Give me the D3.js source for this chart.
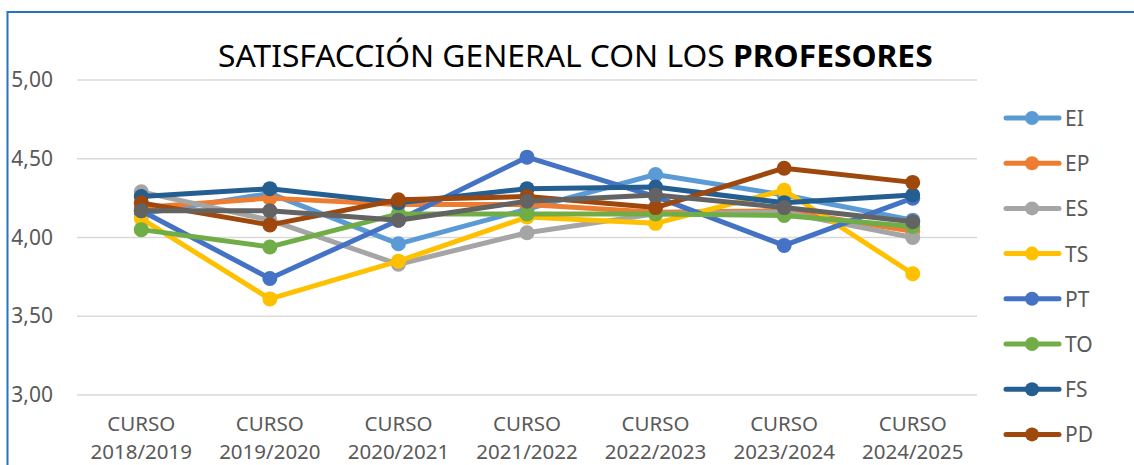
<!DOCTYPE html>
<html>
<head>
<meta charset="utf-8">
<script src="https://cdn.jsdelivr.net/npm/d3@7"></script>
<style>
  body { margin: 0; background: #fff; }
  svg { display: block; font-family: "Noto Sans", "Open Sans", sans-serif; }
</style>
</head>
<body>
<svg width="1134" height="465"></svg>
<script>
var cursos = ["CURSO 2018/2019", "CURSO 2019/2020", "CURSO 2020/2021", "CURSO 2021/2022",
              "CURSO 2022/2023", "CURSO 2023/2024", "CURSO 2024/2025"];
var yTicks = [3, 3.5, 4, 4.5, 5];

var EI = [4.15, 4.28, 3.96, 4.18, 4.40, 4.27, 4.11];
var EP = [4.19, 4.25, 4.21, 4.21, 4.16, 4.17, 4.04];
var ES = [4.29, 4.11, 3.83, 4.03, 4.15, 4.16, 4.00];
var TS = [4.12, 3.61, 3.85, 4.13, 4.09, 4.30, 3.77];
var PT = [4.17, 3.74, 4.11, 4.51, 4.26, 3.95, 4.25];
var TO = [4.05, 3.94, 4.15, 4.15, 4.15, 4.14, 4.07];
var FS = [4.26, 4.31, 4.22, 4.31, 4.32, 4.22, 4.27];
var PD = [4.22, 4.08, 4.24, 4.26, 4.19, 4.44, 4.35];
var OTROS = [4.17, 4.17, 4.11, 4.23, 4.27, 4.19, 4.10];

var series = [
  { name: "EI", values: EI, color: "#5B9BD5" },
  { name: "EP", values: EP, color: "#ED7D31" },
  { name: "ES", values: ES, color: "#A5A5A5" },
  { name: "TS", values: TS, color: "#FFC000" },
  { name: "PT", values: PT, color: "#4472C4" },
  { name: "TO", values: TO, color: "#70AD47" },
  { name: "FS", values: FS, color: "#255E91" },
  { name: "PD", values: PD, color: "#9E480E" },
  { name: "OTROS", values: OTROS, color: "#636363" }
];

var svg = d3.select("svg"),
    width = +svg.attr("width"),
    height = +svg.attr("height");

// chart frame (only left and top edges are visible)
svg.append("rect")
    .attr("x", 7.5).attr("y", 12)
    .attr("width", 1200).attr("height", 500)
    .attr("fill", "none")
    .attr("stroke", "#2873C0")
    .attr("stroke-width", 2);

var x = d3.scaleBand()
    .domain(cursos)
    .range([77, 977]);

var y = d3.scaleLinear()
    .domain([3, 5])
    .range([395, 80]);

// gridlines
svg.append("g")
    .selectAll("line")
    .data(yTicks)
    .enter().append("line")
    .attr("x1", 77).attr("x2", 977)
    .attr("y1", function(d) { return y(d); })
    .attr("y2", function(d) { return y(d); })
    .attr("stroke", "#D9D9D9")
    .attr("stroke-width", 1.5);

// y axis labels
var fmt = function(d) { return d3.format(".2f")(d).replace(".", ","); };
svg.append("g")
    .selectAll("text")
    .data(yTicks)
    .enter().append("text")
    .attr("x", 53)
    .attr("y", function(d) { return y(d) + 7; })
    .attr("text-anchor", "end")
    .attr("fill", "#595959")
    .style("font-size", "21px")
    .text(fmt);

// x axis labels
var xl = svg.append("g")
    .selectAll("text")
    .data(cursos)
    .enter().append("text")
    .attr("text-anchor", "middle")
    .attr("fill", "#595959")
    .style("font-size", "20.5px");
xl.append("tspan")
    .attr("x", function(d) { return x(d) + x.bandwidth() / 2; })
    .attr("y", 431)
    .text(function(d) { return d.split(" ")[0]; });
xl.append("tspan")
    .attr("x", function(d) { return x(d) + x.bandwidth() / 2; })
    .attr("y", 459)
    .text(function(d) { return d.split(" ")[1]; });

// lines + markers
var line = d3.line()
    .x(function(d, i) { return x(cursos[i]) + x.bandwidth() / 2; })
    .y(function(d) { return y(d); });

series.forEach(function(s) {
  var g = svg.append("g");
  g.append("path")
      .attr("d", line(s.values))
      .attr("fill", "none")
      .attr("stroke", s.color)
      .attr("stroke-width", 5)
      .attr("stroke-linejoin", "round")
      .attr("stroke-linecap", "round");
  g.selectAll("circle")
      .data(s.values)
      .enter().append("circle")
      .attr("cx", function(d, i) { return x(cursos[i]) + x.bandwidth() / 2; })
      .attr("cy", function(d) { return y(d); })
      .attr("r", 7.5)
      .attr("fill", s.color);
});

// legend (the ninth entry falls below the visible area, as in the original)
var legend = svg.append("g")
    .selectAll("g")
    .data(series.slice(0, 8))
    .enter().append("g")
    .attr("transform", function(d, i) { return "translate(0," + (118 + i * 45.2) + ")"; });
legend.append("line")
    .attr("x1", 1006).attr("x2", 1059)
    .attr("stroke", function(d) { return d.color; })
    .attr("stroke-width", 5)
    .attr("stroke-linecap", "round");
legend.append("circle")
    .attr("cx", 1032).attr("r", 7)
    .attr("fill", function(d) { return d.color; });
legend.append("text")
    .attr("x", 1065).attr("y", 8)
    .attr("fill", "#595959")
    .style("font-size", "21px")
    .text(function(d) { return d.name; });

// title
var title = svg.append("text")
    .attr("x", 0).attr("y", 0)
    .attr("fill", "#000")
    .style("font-size", "31px");
title.append("tspan").text("SATISFACCIÓN GENERAL CON LOS ");
title.append("tspan").style("font-weight", "bold").text("PROFESORES");
var tw = title.node().getComputedTextLength();
var sx = 715 / tw;
title.attr("transform", "translate(218,67) scale(" + sx + ",1)");
</script>
</body>
</html>
